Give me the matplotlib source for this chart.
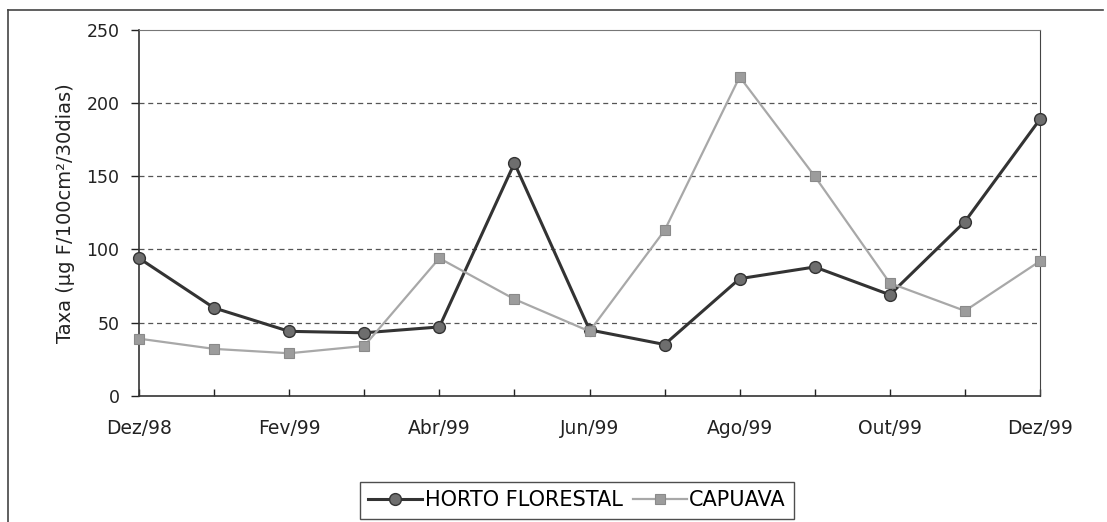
import matplotlib
matplotlib.use("Agg")
from matplotlib import pyplot as plt
from matplotlib.lines import Line2D

# Monthly rates, Dez/98 .. Dez/99
months = ["Dez/98", "Jan/99", "Fev/99", "Mar/99", "Abr/99", "Mai/99", "Jun/99",
          "Jul/99", "Ago/99", "Set/99", "Out/99", "Nov/99", "Dez/99"]
horto = [94, 60, 44, 43, 47, 159, 45, 35, 80, 88, 69, 119, 189]
capuava = [39, 32, 29, 34, 94, 66, 44, 113, 218, 150, 77, 58, 92]
yticks = [0, 50, 100, 150, 200, 250]

W, H = 1107, 522
fig = plt.figure(figsize=(W / 100, H / 100), dpi=100)
ax = fig.add_axes([139 / W, 1 - 395.7 / H, (1040 - 139) / W, (395.7 - 30) / H])

x = list(range(len(months)))
ax.plot(x, horto, color="#333333", lw=2.2, marker="o", ms=8.5,
        mfc="#6e6e6e", mec="#333333", mew=1.0, label="HORTO FLORESTAL",
        zorder=3, clip_on=False)
ax.plot(x, capuava, color="#a8a8a8", lw=1.6, marker="s", ms=7.5,
        mfc="#9c9c9c", mec="#8a8a8a", mew=0.8, label="CAPUAVA",
        zorder=4, clip_on=False)

ax.set_xlim(0, len(months) - 1)
ax.set_ylim(0, 250)
ax.set_xticks(x)
ax.set_xticklabels([m if i % 2 == 0 else "" for i, m in enumerate(months)])
ax.set_yticks(yticks)
ax.tick_params(axis="x", direction="in", length=5, width=1, pad=17,
               labelsize=13.5, colors="#222222")
ax.tick_params(axis="y", direction="out", length=6, width=1, pad=8,
               labelsize=12.5, colors="#222222")

for v in yticks[1:-1]:
    ax.axhline(v, color="#555555", lw=0.9, ls=(0, (4, 3)), zorder=1)

for side in ["left", "bottom"]:
    ax.spines[side].set_color("#333333")
    ax.spines[side].set_linewidth(1.2)
ax.spines["top"].set_color("#777777")
ax.spines["right"].set_color("#444444")

ax.set_ylabel("Taxa (µg F/100cm²/30dias)", fontsize=14, color="#222222")
ax.yaxis.set_label_coords(-0.071, 0.5)

leg = fig.legend(loc="center", bbox_to_anchor=(577 / W, 1 - 500.5 / H), ncol=2,
                 fontsize=15, frameon=True, fancybox=False, edgecolor="#222222",
                 handlelength=2.6, handletextpad=0.1, columnspacing=0.5,
                 borderpad=0.4)
leg.get_frame().set_linewidth(1.0)

# outer chart border (top and left visible)
fig.add_artist(Line2D([8 / W, 1103 / W], [1 - 10 / H, 1 - 10 / H],
                      color="#444444", lw=1.2))
fig.add_artist(Line2D([8 / W, 8 / W], [1 - 10 / H, 0], color="#444444", lw=1.2))

plt.savefig("out.png", dpi=100)
